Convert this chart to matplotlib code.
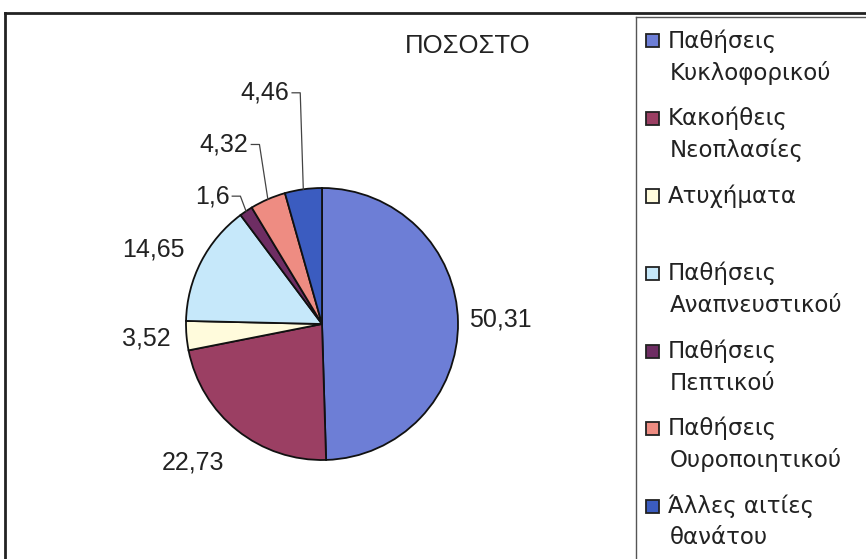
import matplotlib.pyplot as plt
import numpy as np
from matplotlib.lines import Line2D
from matplotlib.patches import Rectangle

plt.rcParams["font.family"] = ["Liberation Sans", "DejaVu Sans"]

# causes of death, percentage share
CAUSES = [
    "Παθήσεις\nΚυκλοφορικού",
    "Κακοήθεις\nΝεοπλασίες",
    "Ατυχήματα",
    "Παθήσεις\nΑναπνευστικού",
    "Παθήσεις\nΠεπτικού",
    "Παθήσεις\nΟυροποιητικού",
    "Άλλες αιτίες\nθανάτου",
]
PERCENT = [50.31, 22.73, 3.52, 14.65, 1.6, 4.32, 4.46]
COLORS = ["#6D7ED6", "#9B3F63", "#FFFBDC", "#C6E8FA", "#6E2D63", "#EE8C82", "#3B5CC0"]

W, H = 866, 559

# label placement in pie units (radius = 1); leader=True means ha right + elbow line
LABEL_POS = [
    (1.31, 0.03, False),
    (-0.95, -1.02, False),
    (-1.29, -0.11, False),
    (-1.24, 0.55, False),
    (-0.68, 0.94, True),
    (-0.54, 1.32, True),
    (-0.24, 1.70, True),
]


def fmt(v):
    return f"{v:g}".replace(".", ",")


def main():
    fig = plt.figure(figsize=(W / 100, H / 100), dpi=100)
    cx, cy, r = 322, 324, 136
    ax = fig.add_axes([(cx - r) / W, 1 - (cy + r) / H, 2 * r / W, 2 * r / H])

    wedges, _ = ax.pie(
        PERCENT,
        colors=COLORS,
        startangle=90,
        counterclock=False,
        radius=1,
        wedgeprops={"edgecolor": "#111111", "linewidth": 1.3},
    )
    # pie() resets the limits, so pin them afterwards
    ax.set_xlim(-1, 1)
    ax.set_ylim(-1, 1)
    ax.set_aspect("equal")
    ax.axis("off")

    for w, v, (lx, ly, leader) in zip(wedges, PERCENT, LABEL_POS):
        if leader:
            mid = np.deg2rad((w.theta1 + w.theta2) / 2)
            ex = lx + 0.08
            ax.plot([lx + 0.02, ex, np.cos(mid)], [ly, ly, np.sin(mid)],
                    color="#444444", lw=0.9, clip_on=False)
            ax.text(lx, ly, fmt(v), ha="right", va="center", fontsize=18, color="#222222")
        else:
            ax.text(lx, ly, fmt(v), ha="center", va="center", fontsize=18, color="#222222")

    fig.text(468 / W, 1 - 46 / H, "ΠΟΣΟΣΤΟ", ha="center", va="center",
             fontsize=18.5, color="#222222")

    # chart and legend frames
    fig.add_artist(Line2D([5 / W, 1], [1 - 13 / H] * 2, color="#222222", lw=2))
    fig.add_artist(Line2D([5 / W] * 2, [0, 1 - 13 / H], color="#222222", lw=2))
    fig.add_artist(Line2D([636 / W, 1], [1 - 17 / H] * 2, color="#555555", lw=1))
    fig.add_artist(Line2D([636 / W] * 2, [0, 1 - 17 / H], color="#555555", lw=1))

    # legend entries
    y0, step, sq = 41, 77.5, 13
    for i, (name, col) in enumerate(zip(CAUSES, COLORS)):
        y = y0 + i * step
        fig.add_artist(Rectangle((646 / W, 1 - (y + sq / 2) / H), sq / W, sq / H,
                                 facecolor=col, edgecolor="#222222", lw=1.3,
                                 transform=fig.transFigure))
        lines = name.split("\n")
        fig.text(668 / W, 1 - y / H, lines[0], ha="left", va="center",
                 fontsize=16.5, color="#222222", family="DejaVu Sans")
        if len(lines) > 1:
            fig.text(670 / W, 1 - (y + 32) / H, lines[1], ha="left", va="center",
                     fontsize=16.5, color="#222222", family="DejaVu Sans")

    fig.savefig("out.png", dpi=100, facecolor="white")


if __name__ == "__main__":
    main()
